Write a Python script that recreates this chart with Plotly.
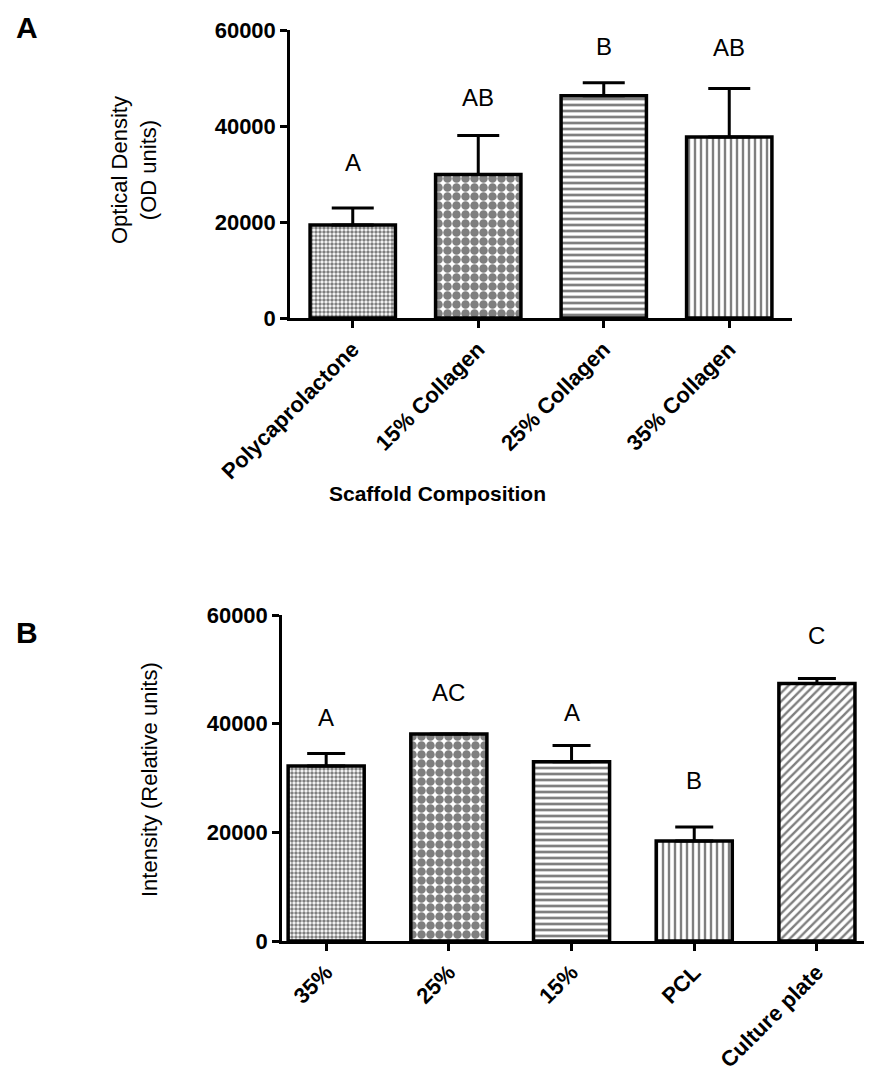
import plotly.graph_objects as go

# ---------------- data ----------------
cats_a = ["Polycaprolactone", "15% Collagen", "25% Collagen", "35% Collagen"]
vals_a = [19400, 29900, 46300, 37700]
errs_a = [3500, 8100, 2700, 10100]
letters_a = ["A", "AB", "B", "AB"]
letter_y_a = [32300, 46000, 56500, 56300]

cats_b = ["35%", "25%", "15%", "PCL", "Culture plate"]
vals_b = [32200, 38100, 33000, 18400, 47400]
errs_b = [2300, 0, 3000, 2600, 900]
letters_b = ["A", "AC", "A", "B", "C"]
letter_y_b = [41200, 45800, 42100, 29600, 56300]

y_ticks = [0, 20000, 40000, 60000]

patterns_a = [
    dict(shape=".", size=4, solidity=0.6, fgcolor="black", bgcolor="white"),
    dict(shape=".", size=9, solidity=0.7, fgcolor="black", bgcolor="white"),
    dict(shape="-", size=6, solidity=0.45, fgcolor="black", bgcolor="white"),
    dict(shape="|", size=6, solidity=0.4, fgcolor="black", bgcolor="white"),
]
patterns_b = [
    dict(shape=".", size=4, solidity=0.6, fgcolor="black", bgcolor="white"),
    dict(shape=".", size=9, solidity=0.7, fgcolor="black", bgcolor="white"),
    dict(shape="-", size=6, solidity=0.45, fgcolor="black", bgcolor="white"),
    dict(shape="|", size=6, solidity=0.4, fgcolor="black", bgcolor="white"),
    dict(shape="/", size=6, solidity=0.4, fgcolor="black", bgcolor="white"),
]

FONT = "Arial, Liberation Sans, sans-serif"
W, H = 872, 1083
OFF = 8  # page body margin

fig = go.Figure()

for i, c in enumerate(cats_a):
    fig.add_trace(go.Bar(
        x=[c], y=[vals_a[i]], xaxis="x", yaxis="y", width=0.68,
        marker=dict(color="white", pattern=patterns_a[i],
                    line=dict(color="black", width=3.5)),
        error_y=dict(type="data", symmetric=False, array=[errs_a[i]], arrayminus=[0],
                     color="black", thickness=3, width=21),
        showlegend=False, hoverinfo="skip"))

for i, c in enumerate(cats_b):
    fig.add_trace(go.Bar(
        x=[c], y=[vals_b[i]], xaxis="x2", yaxis="y2", width=0.62,
        marker=dict(color="white", pattern=patterns_b[i],
                    line=dict(color="black", width=3.5)),
        error_y=dict(type="data", symmetric=False, array=[errs_b[i]], arrayminus=[0],
                     color="black", thickness=3, width=19),
        showlegend=False, hoverinfo="skip"))

def px_x(p):
    return (p - OFF) / W

def px_y(p):
    return 1 - (p - OFF) / H

axis_common = dict(showline=True, linecolor="black", linewidth=2.5, ticks="outside",
                   ticklen=7, tickwidth=2.5, tickcolor="black", showgrid=False,
                   zeroline=False, automargin=False)
xfont = dict(family=FONT, size=22, color="black", weight="bold")
yfont = dict(family=FONT, size=22, color="black", weight="bold")

fig.update_layout(
    width=W, height=H, margin=dict(l=0, r=0, t=0, b=0, autoexpand=False),
    paper_bgcolor="white", plot_bgcolor="white",
    xaxis=dict(domain=[px_x(290), px_x(792)], anchor="y", range=[-0.5, 3.5],
               tickangle=-45, tickfont=xfont, **axis_common),
    yaxis=dict(domain=[px_y(318), px_y(30)], anchor="x", range=[0, 60000],
               tickvals=y_ticks, ticktext=[str(v) for v in y_ticks], tickfont=yfont,
               **axis_common),
    xaxis2=dict(domain=[px_x(282), px_x(866)], anchor="y2", range=[-0.36, 4.4],
                tickangle=-45, tickfont=xfont, **axis_common),
    yaxis2=dict(domain=[px_y(941), px_y(615)], anchor="x2", range=[0, 60000],
                tickvals=y_ticks, ticktext=[str(v) for v in y_ticks], tickfont=yfont,
                **axis_common),
)

ann = []
for c, t, yy in zip(cats_a, letters_a, letter_y_a):
    ann.append(dict(x=c, y=yy, xref="x", yref="y", text=t, showarrow=False,
                    xanchor="center", yanchor="middle",
                    font=dict(family=FONT, size=24, color="black")))
for c, t, yy in zip(cats_b, letters_b, letter_y_b):
    ann.append(dict(x=c, y=yy, xref="x2", yref="y2", text=t, showarrow=False,
                    xanchor="center", yanchor="middle",
                    font=dict(family=FONT, size=24, color="black")))

ann += [
    dict(x=px_x(27), y=px_y(27), xref="paper", yref="paper", text="<b>A</b>",
         xanchor="center", yanchor="middle",
         showarrow=False, font=dict(family=FONT, size=30, color="black")),
    dict(x=px_x(27), y=px_y(632), xref="paper", yref="paper", text="<b>B</b>",
         xanchor="center", yanchor="middle",
         showarrow=False, font=dict(family=FONT, size=30, color="black")),
    dict(x=px_x(134), y=px_y(170), xref="paper", yref="paper",
         text="Optical Density<br>(OD units)", textangle=-90, showarrow=False,
         xanchor="center", yanchor="middle",
         font=dict(family=FONT, size=22, color="black")),
    dict(x=px_x(149), y=px_y(780), xref="paper", yref="paper",
         text="Intensity (Relative units)", textangle=-90, showarrow=False,
         xanchor="center", yanchor="middle",
         font=dict(family=FONT, size=22, color="black")),
    dict(x=px_x(437), y=px_y(494), xref="paper", yref="paper",
         text="<b>Scaffold Composition</b>", showarrow=False,
         xanchor="center", yanchor="middle",
         font=dict(family=FONT, size=21, color="black")),
]
fig.update_layout(annotations=ann)

fig.write_html("out.html")
